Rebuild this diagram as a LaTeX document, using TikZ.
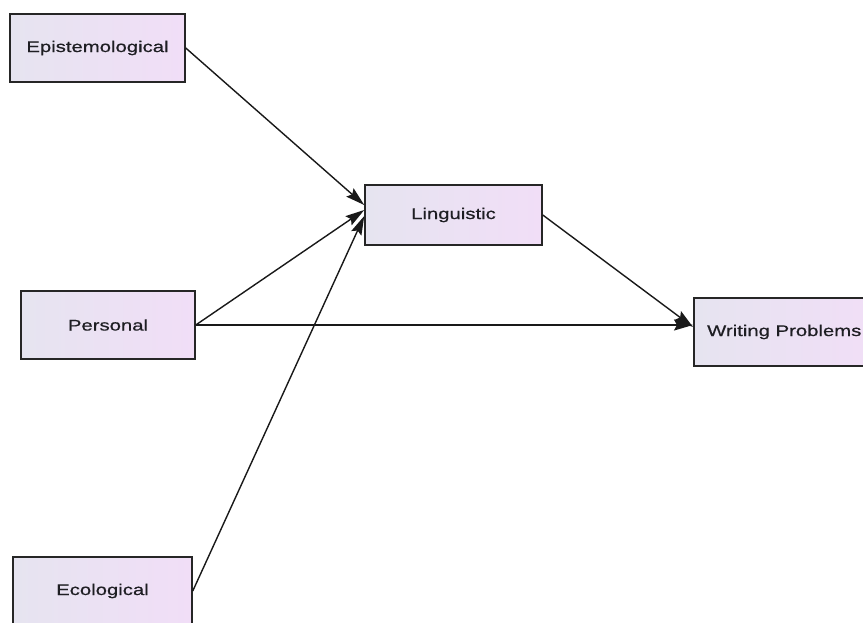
\documentclass[tikz,border=0pt]{standalone}
\usepackage{fontspec}
\newfontfamily\boxfont[FakeStretch=1.31,FakeBold=0.6]{Liberation Sans}
\usetikzlibrary{arrows.meta}
\definecolor{lavL}{RGB}{230,228,240}
\definecolor{lavR}{RGB}{241,222,247}
\definecolor{txt}{RGB}{30,30,35}
\begin{document}
\begin{tikzpicture}[x=1pt,y=-1pt,
  box/.style={draw=black!85, line width=1.5pt, left color=lavL, right color=lavR,
    minimum width=#1, minimum height=68pt, inner sep=0pt,
    font=\boxfont\fontsize{15.5}{18}\selectfont, text=txt},
  arr/.style={draw=black!90, line width=1.4pt, -{Stealth[length=19pt,width=11pt,inset=3pt]}}]
\useasboundingbox (0,0) rectangle (863,622);
\fill[white] (0,0) rectangle (863,622);
\begin{scope}
\clip (0,0) rectangle (863,622);
\node[box=175pt] (epi) at (97.5,48) {Epistemological};
\node[box=174pt] (pers) at (108,325) {Personal};
\node[box=179pt] (eco) at (102.5,591) {Ecological};
\node[box=177pt, minimum height=60pt] (ling) at (453.5,215) {Linguistic};
\node[box=184pt, anchor=west, align=left] (wp) at (693,332) {\hspace*{9pt}Writing Problems\hspace*{12pt}};
\draw[arr] (epi.east) -- ([yshift=10pt]ling.west);
\draw[arr] (pers.east) -- ([yshift=5pt]ling.west);
\draw[arr] (eco.east) -- ([yshift=-1pt]ling.west);
\draw[arr] (pers.east) -- ([yshift=7pt]wp.west);
\draw[arr] (ling.east) -- ([yshift=5pt]wp.west);
\end{scope}
\end{tikzpicture}
\end{document}
